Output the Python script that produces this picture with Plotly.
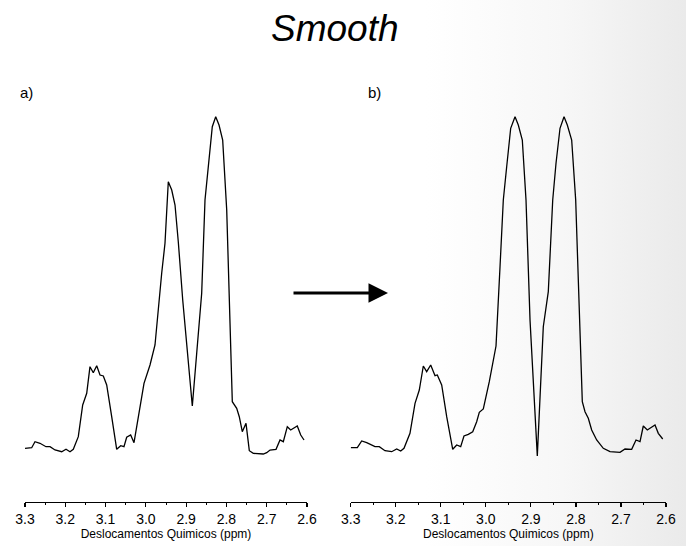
import base64
import plotly.graph_objects as go

# ---- data (ppm, intensity in arbitrary units) ----
ppm_raw = [3.3000, 3.2834, 3.2752, 3.2628, 3.2479, 3.2379, 3.2255, 3.2089, 3.1982, 3.1883,
           3.1801, 3.1677, 3.1568, 3.1468, 3.1387, 3.1305, 3.1220, 3.1138, 3.1056, 3.0972,
           3.0848, 3.0724, 3.0624, 3.0543, 3.0476, 3.0377, 3.0294, 3.0188, 3.0046, 2.9897,
           2.9773, 2.9607, 2.9525, 2.9443, 2.9358, 2.9276, 2.9195, 2.9085, 2.8847, 2.8738,
           2.8614, 2.8532, 2.8450, 2.8351, 2.8266, 2.8184, 2.8093, 2.7993, 2.7854, 2.7745,
           2.7681, 2.7606, 2.7514, 2.7432, 2.7333, 2.7085, 2.7000, 2.6918, 2.6769, 2.6670,
           2.6588, 2.6489, 2.6405, 2.6241, 2.6156, 2.6074]
int_raw = [7.7, 8.3, 14.3, 12.7, 9.3, 9.3, 6.0, 4.3, 6.7, 4.3,
           6.7, 19.3, 51.0, 62.7, 89.3, 83.3, 90.3, 81.0, 80.0, 71.0,
           39.3, 6.7, 10.3, 9.3, 18.7, 21.0, 13.3, 39.3, 72.7, 91.0,
           111.0, 182.7, 212.7, 274.3, 266.0, 251.0, 214.3, 156.0, 50.0, 102.7,
           162.7, 256.0, 292.7, 329.3, 339.3, 331.0, 316.0, 246.0, 54.3, 47.7,
           39.3, 24.3, 32.7, 5.3, 2.7, 2.0, 3.3, 6.0, 6.7, 16.0,
           14.3, 29.3, 26.0, 30.0, 21.0, 16.0]

ppm_smooth = [3.3000, 3.2853, 3.2756, 3.2645, 3.2461, 3.2365, 3.2239, 3.2090, 3.1979, 3.1890,
              3.1817, 3.1684, 3.1572, 3.1477, 3.1388, 3.1313, 3.1224, 3.1128, 3.1077, 3.0980,
              3.0869, 3.0735, 3.0647, 3.0558, 3.0485, 3.0389, 3.0291, 3.0203, 3.0145, 3.0056,
              2.9923, 2.9774, 2.9685, 2.9612, 2.9537, 2.9448, 2.9352, 2.9279, 2.9190, 2.9108,
              2.9019, 2.8857, 2.8724, 2.8613, 2.8515, 2.8442, 2.8353, 2.8264, 2.8191, 2.8094,
              2.8005, 2.7858, 2.7798, 2.7725, 2.7650, 2.7539, 2.7392, 2.7243, 2.7021, 2.6910,
              2.6762, 2.6666, 2.6577, 2.6504, 2.6415, 2.6244, 2.6171, 2.6073]
int_smooth = [8.3, 8.3, 15.0, 13.3, 9.3, 9.3, 5.3, 4.3, 7.0, 5.0,
              7.7, 22.7, 52.7, 66.0, 90.0, 84.3, 91.0, 80.3, 81.0, 71.0,
              39.3, 6.7, 11.0, 9.3, 20.0, 21.7, 24.3, 34.3, 43.7, 47.0,
              74.3, 110.0, 189.3, 256.0, 289.3, 327.7, 339.3, 331.0, 316.0, 256.0,
              136.0, 0.0, 129.3, 164.3, 256.0, 292.7, 327.7, 339.3, 331.0, 316.0,
              256.0, 54.3, 44.3, 37.7, 26.0, 16.0, 7.7, 4.3, 3.7, 7.0,
              6.7, 16.0, 14.3, 30.0, 26.0, 31.0, 22.7, 17.0]

tick_vals = [3.3, 3.2, 3.1, 3.0, 2.9, 2.8, 2.7, 2.6]
tick_text = ["3.3", "3.2", "3.1", "3.0", "2.9", "2.8", "2.7", "2.6"]
x_title = "Deslocamentos Quimicos (ppm)"

W, H = 686, 546
FONT = "Liberation Sans, Arial, sans-serif"

fig = go.Figure()
fig.add_trace(go.Scatter(x=ppm_raw, y=int_raw, mode="lines",
                         line=dict(color="black", width=1.3), xaxis="x", yaxis="y",
                         showlegend=False, hoverinfo="skip"))
fig.add_trace(go.Scatter(x=ppm_smooth, y=int_smooth, mode="lines",
                         line=dict(color="black", width=1.3), xaxis="x2", yaxis="y2",
                         showlegend=False, hoverinfo="skip"))

ydom = [1 - 502 / H, 1 - 100 / H]
yrange = [-46, 356]

def xaxis_cfg(dom, anchor):
    return dict(domain=dom, anchor=anchor, range=[3.3, 2.6], autorange=False,
                automargin=False,
                showline=True, linecolor="black", linewidth=1.2,
                showgrid=False, zeroline=False,
                tickmode="array", tickvals=tick_vals, ticktext=tick_text,
                ticks="outside", ticklen=4, tickwidth=1.2, tickcolor="black",
                tickfont=dict(family=FONT, size=14, color="black"),
                minor=dict(ticks="outside", ticklen=2, tickwidth=1, tickcolor="black",
                           dtick=0.05, tick0=2.6, showgrid=False),
                title=dict(text=x_title, font=dict(family=FONT, size=12, color="black"),
                           standoff=0),
                fixedrange=True)

def yaxis_cfg(anchor):
    return dict(domain=ydom, anchor=anchor, range=yrange, autorange=False,
                automargin=False,
                visible=False, showgrid=False, zeroline=False, fixedrange=True)

# soft background gradient (white to very light grey toward the right edge)
svg = (
    f'<svg xmlns="http://www.w3.org/2000/svg" width="{W}" height="{H}" '
    f'viewBox="0 0 {W} {H}" preserveAspectRatio="none">'
    '<defs><linearGradient id="g" x1="0" y1="0" x2="1" y2="0">'
    '<stop offset="0" stop-color="#ffffff"/>'
    '<stop offset="0.62" stop-color="#ffffff"/>'
    '<stop offset="0.82" stop-color="#f7f7f7"/>'
    '<stop offset="1" stop-color="#eaeaea"/>'
    '</linearGradient></defs>'
    f'<rect x="0" y="0" width="{W}" height="{H}" fill="url(#g)"/></svg>'
)
bg_src = "data:image/svg+xml;base64," + base64.b64encode(svg.encode()).decode()

fig.update_layout(
    width=W, height=H,
    margin=dict(l=0, r=0, t=0, b=0, autoexpand=False),
    paper_bgcolor="white", plot_bgcolor="rgba(0,0,0,0)",
    xaxis=xaxis_cfg([25 / W, 307 / W], "y"),
    yaxis=yaxis_cfg("x"),
    xaxis2=xaxis_cfg([350.7 / W, 666 / W], "y2"),
    yaxis2=yaxis_cfg("x2"),
    images=[dict(source=bg_src, xref="paper", yref="paper", x=0, y=1,
                 sizex=1, sizey=1, xanchor="left", yanchor="top",
                 sizing="stretch", layer="below")],
    annotations=[
        dict(text="<i>Smooth</i>", x=335 / W, y=1 - 28 / H, xref="paper", yref="paper",
             showarrow=False, font=dict(family=FONT, size=37, color="black"),
             xanchor="center", yanchor="middle"),
        dict(text="a)", x=18 / W, y=1 - 92 / H, xref="paper", yref="paper",
             showarrow=False, font=dict(family=FONT, size=15, color="black"),
             xanchor="left", yanchor="middle"),
        dict(text="b)", x=366 / W, y=1 - 92 / H, xref="paper", yref="paper",
             showarrow=False, font=dict(family=FONT, size=15, color="black"),
             xanchor="left", yanchor="middle"),
        dict(text="", x=388 / W, y=1 - 293 / H, xref="paper", yref="paper",
             showarrow=True, ax=-96, ay=0, axref="pixel", ayref="pixel",
             arrowhead=2, arrowsize=1.3, arrowwidth=3, arrowcolor="black"),
    ],
)

fig.write_html(
    "out.html",
    config={"displayModeBar": False, "staticPlot": True},
    post_script="document.body.style.margin='0';document.body.style.overflow='hidden';",
)
